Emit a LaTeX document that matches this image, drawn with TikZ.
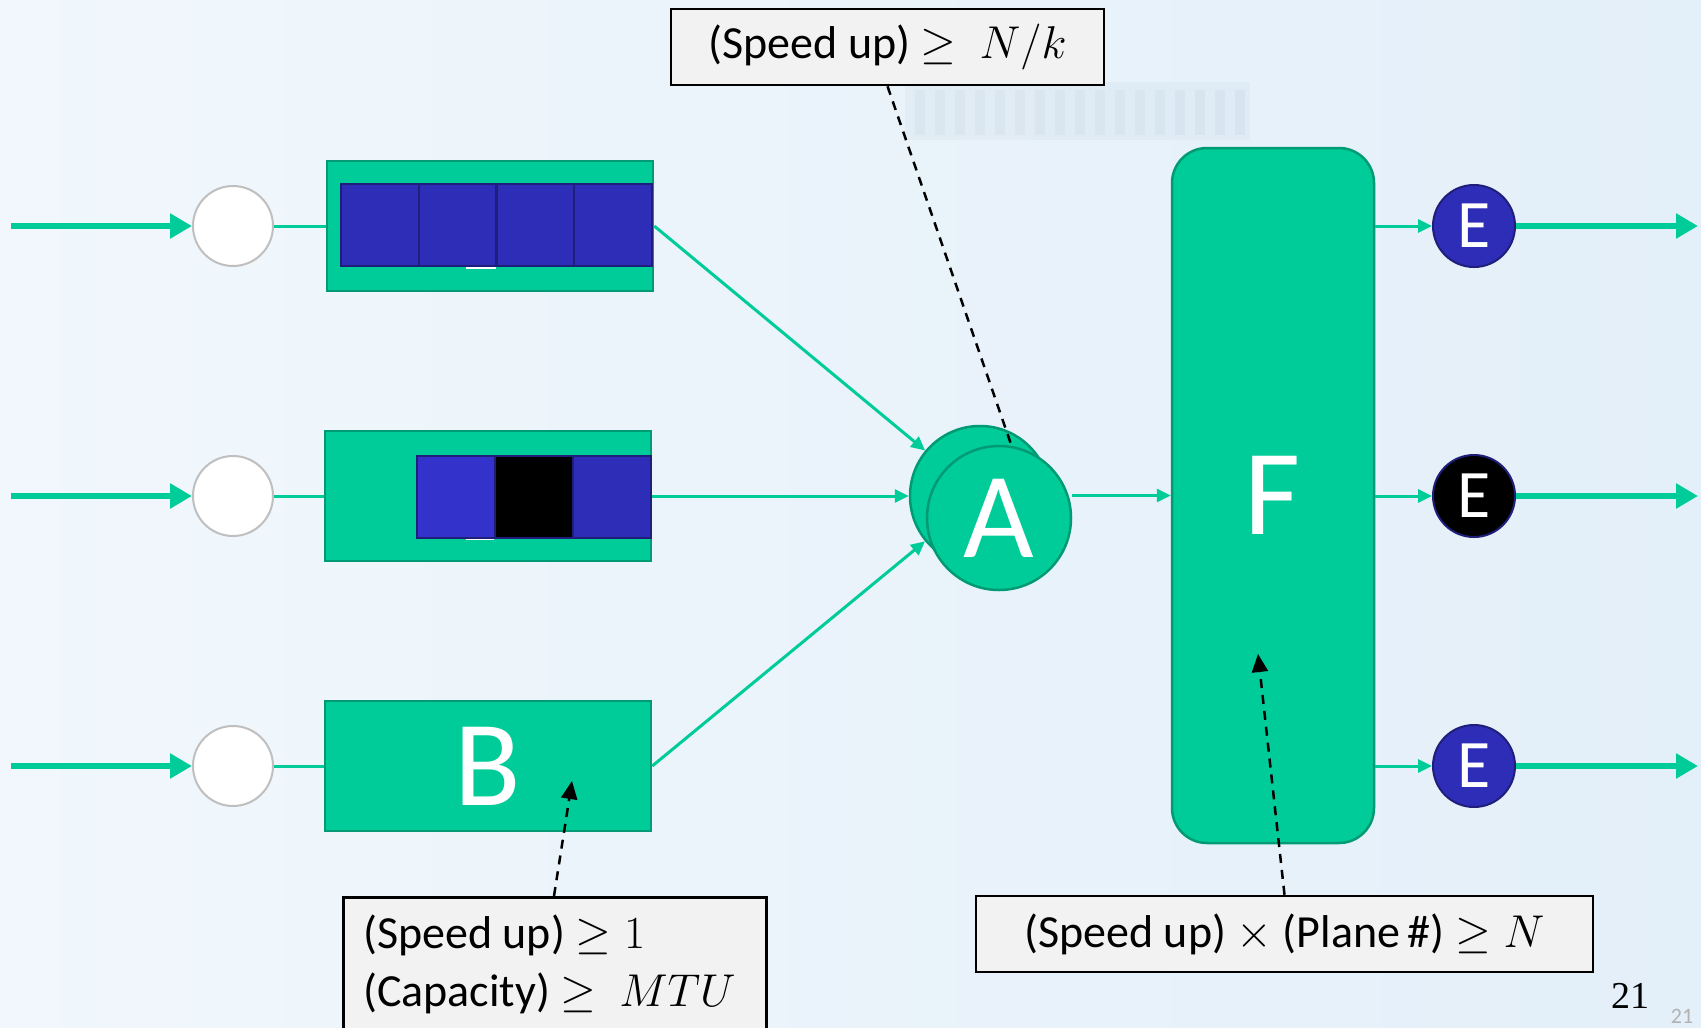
\RequirePackage{fix-cm}
\documentclass[tikz,border=0pt]{standalone}
\usepackage{fontspec}
\setmainfont{Carlito}
\newfontfamily\numfont{Liberation Serif}
\usetikzlibrary{arrows.meta}

\definecolor{boardbg}{HTML}{E3EFF9}
\definecolor{boardlight}{HTML}{F1F7FC}
\definecolor{slate}{HTML}{6F8FB0}
\definecolor{mint}{HTML}{00CC99}
\definecolor{mintedge}{HTML}{009A74}
\definecolor{cellblue}{HTML}{2E2DB8}
\definecolor{cellblueb}{HTML}{3333CC}
\definecolor{celledge}{HTML}{1F1E7A}
\definecolor{notefill}{HTML}{F2F2F2}

\tikzset{
  feed/.style={draw=mint, line width=6pt, -{Triangle[length=22pt,width=24pt]}},
  link/.style={draw=mint, line width=3pt},
  linkarrow/.style={link, -{Triangle[length=14pt,width=13pt]}},
  port/.style={circle, draw=gray!50, line width=2pt, fill=white, minimum size=80pt, inner sep=0pt},
  bufbox/.style={rectangle, draw=mintedge, fill=mint, line width=2.5pt,
    minimum width=326pt, minimum height=130pt, inner sep=0pt,
    text=white, font=\fontsize{122}{130}\selectfont},
  cell/.style={rectangle, draw=celledge, line width=2pt, minimum width=77.75pt,
    minimum height=82pt, inner sep=0pt},
  hub/.style={circle, draw=mintedge, fill=mint, line width=2.5pt, inner sep=0pt,
    text=white, font=\fontsize{122}{130}\selectfont},
  egress/.style={circle, draw=celledge, line width=2pt, minimum size=82pt, inner sep=0pt,
    text=white, font=\fontsize{68}{72}\selectfont},
  note/.style={rectangle, draw=black, fill=notefill, line width=2.5pt, inner sep=0pt},
  notetext/.style={inner sep=0pt, font=\fontsize{46}{58}\selectfont},
  callout/.style={draw=black, line width=2.5pt, dash pattern=on 9pt off 7pt},
  calloutarrow/.style={callout, -{Triangle[length=18pt,width=16pt]}},
}

\begin{document}
\begin{tikzpicture}[x=1pt, y=-1pt]
  \useasboundingbox (0,0) rectangle (1701,1028);
  \clip (0,0) rectangle (1701,1028);

  % faded board backdrop
  \shade[left color=boardlight, right color=boardbg] (0,0) rectangle (1701,1028);
  \fill[slate, opacity=0.06] (905,82) rectangle (1250,140);
  \foreach \k in {0,...,16} {
    \fill[slate, opacity=0.06] (915+20*\k,90) rectangle (925+20*\k,135);
  }

  % ingress ports
  \node[port] (in1) at (233,226) {};
  \node[port] (in2) at (233,496) {};
  \node[port] (in3) at (233,766) {};
  \coordinate (src1) at (11,226);
  \coordinate (src2) at (11,496);
  \coordinate (src3) at (11,766);
  \draw[feed] (src1) -- (in1.west);
  \draw[feed] (src2) -- (in2.west);
  \draw[feed] (src3) -- (in3.west);

  % input buffers
  \node[bufbox] (buf1) at (490,226) {};
  \node[bufbox] (buf2) at (488,496) {};
  \node[bufbox] (buf3) at (488,766) {B};
  \draw[link] (in1.east) -- (buf1.west);
  \draw[link] (in2.east) -- (buf2.west);
  \draw[link] (in3.east) -- (buf3.west);

  \fill[white] (466,262) rectangle (496,269);
  \fill[white] (466,533) rectangle (494,540);
  \node[cell, fill=cellblue] (c11) at (379.9,225) {};
  \node[cell, fill=cellblue] (c12) at (457.6,225) {};
  \node[cell, fill=cellblue] (c13) at (535.4,225) {};
  \node[cell, fill=cellblue] (c14) at (613.1,225) {};
  \node[cell, fill=cellblueb, minimum width=78pt] (c21) at (456,496.5) {};
  \node[cell, fill=black, minimum width=78pt] (c22) at (534,496.5) {};
  \node[cell, fill=cellblue, minimum width=78pt] (c23) at (612,496.5) {};

  % annotation boxes
  \node[note, minimum width=433pt, minimum height=76pt] (noteTop) at (887.5,47) {};
  \node[notetext] (noteTopText) at (887.5,47) {(Speed up) $\geq$\enspace$N/k$};
  \node[note, anchor=north west, minimum width=423pt, minimum height=160pt] (noteBL) at (342,896) {};
  \node[notetext, anchor=north west, align=left] (noteBLText) at (363,915)
    {(Speed up) $\geq 1$\\(Capacity) $\geq$\enspace$MTU$};
  \node[note, minimum width=617pt, minimum height=76pt] (noteBR) at (1284.5,934) {};
  \node[notetext] (noteBRText) at (1284.5,934) {(Speed up) $\times$ (Plane\,\#) $\geq N$};

  % arbiter
  \node[hub, minimum size=140pt] (hubBack) at (980,496) {};
  \coordinate (hubTip) at (1013,450);
  \draw[callout] (noteTop.south) -- (hubTip);
  \node[hub, minimum size=144pt] (hubFront) at (999,518) {A};
  \draw[linkarrow] (buf1.east) -- (hubBack);
  \draw[linkarrow] (buf2.east) -- (hubBack.west |- buf2.east);
  \draw[linkarrow] (buf3.east) -- (hubBack);

  % fabric
  \node[rectangle, rounded corners=35pt, draw=mintedge, fill=mint, line width=2.5pt,
    minimum width=202pt, minimum height=695pt, inner sep=0pt, text=white,
    font=\fontsize{122}{130}\selectfont] (fab) at (1273,495.5) {F};
  \draw[linkarrow] (hubFront.east |- fab.west) -- (fab.west);

  % egress ports
  \node[egress, fill=cellblue] (out1) at (1474,226) {E};
  \node[egress, fill=black] (out2) at (1474,496) {E};
  \node[egress, fill=cellblue] (out3) at (1474,766) {E};
  \draw[linkarrow] (fab.east |- out1.west) -- (out1.west);
  \draw[linkarrow] (fab.east |- out2.west) -- (out2.west);
  \draw[linkarrow] (fab.east |- out3.west) -- (out3.west);
  \coordinate (snk1) at (1698,226);
  \coordinate (snk2) at (1698,496);
  \coordinate (snk3) at (1698,766);
  \draw[feed] (out1.east) -- (snk1);
  \draw[feed] (out2.east) -- (snk2);
  \draw[feed] (out3.east) -- (snk3);

  % pointers from the lower notes
  \coordinate (bufFoot) at (554,896);
  \coordinate (bufTip) at (572,781);
  \draw[calloutarrow] (bufFoot) -- (bufTip);
  \coordinate (fabTip) at (1258,654);
  \draw[calloutarrow] (noteBR.north) -- (fabTip);

  % page number
  \node[font=\numfont\fontsize{38}{40}\selectfont] (pageNo) at (1630,996) {21};
  \node[font=\fontsize{22}{24}\selectfont, text=gray!60] (pageNoGhost) at (1682,1016) {21};
\end{tikzpicture}
\end{document}
